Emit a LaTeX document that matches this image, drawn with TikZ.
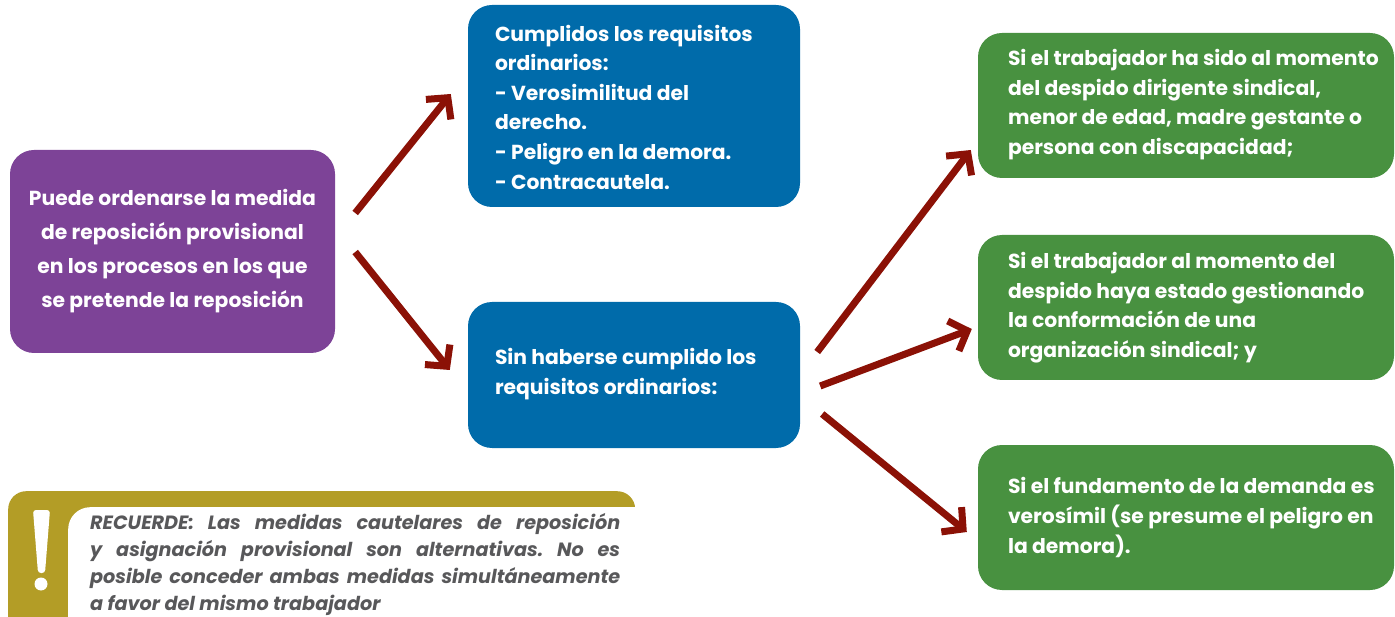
\documentclass[tikz,border=0pt]{standalone}
\usepackage{fontspec}
\setmainfont{Poppins}
\usetikzlibrary{arrows.meta,calc}
\definecolor{cpurple}{HTML}{7D4397}
\definecolor{cblue}{HTML}{006BAA}
\definecolor{cgreen}{HTML}{489140}
\definecolor{colive}{HTML}{B39D26}
\definecolor{carrow}{HTML}{8B1106}
\definecolor{cgrey}{HTML}{58585A}
\frenchspacing
\begin{document}
\begin{tikzpicture}[x=1pt,y=-1pt,
  boxshape/.style={rounded corners=24pt, inner sep=0pt, draw=none},
  boxtext/.style={text=white, inner sep=0pt, anchor=west, align=left,
    font=\bfseries\fontsize{20.3}{29.6}\selectfont},
  arr/.style={draw=carrow, line width=7pt,
    -{Straight Barb[sharp,length=15pt,width=32pt]}}]
\useasboundingbox (0,0) rectangle (1395,617);
\clip (0,0) rectangle (1395,617);

% purple box
\node[boxshape, fill=cpurple, minimum width=325pt, minimum height=203pt,
  text=white, align=center, font=\bfseries\fontsize{20.3}{34}\selectfont]
  (p) at (172.5,251.5) {Puede ordenarse la medida\\de reposición provisional\\en los procesos en los que\\se pretende la reposición};

% blue boxes
\node[boxshape, fill=cblue, minimum width=332pt, minimum height=202pt] (b1) at (634,106) {};
\node[boxtext] (b1t) at ($(b1.west)+(27,1)$) {Cumplidos los requisitos\\ordinarios:\\- Verosimilitud del\\derecho.\\- Peligro en la demora.\\- Contracautela.};

\node[boxshape, fill=cblue, minimum width=332pt, minimum height=146pt] (b2) at (634,375) {};
\node[boxtext] (b2t) at ($(b2.west)+(27,-1)$) {Sin haberse cumplido los\\requisitos ordinarios:};

% green boxes
\node[boxshape, fill=cgreen, minimum width=416pt, minimum height=145pt] (g1) at (1186,105.5) {};
\node[boxtext] (g1t) at ($(g1.west)+(30,-1)$) {Si el trabajador ha sido al momento\\del despido dirigente sindical,\\menor de edad, madre gestante o\\persona con discapacidad;};

\node[boxshape, fill=cgreen, minimum width=416pt, minimum height=145pt] (g2) at (1186,307.5) {};
\node[boxtext] (g2t) at ($(g2.west)+(30,0)$) {Si el trabajador al momento del\\despido haya estado gestionando\\la conformación de una\\organización sindical; y};

\node[boxshape, fill=cgreen, minimum width=416pt, minimum height=145pt] (g3) at (1186,517.5) {};
\node[boxtext] (g3t) at ($(g3.west)+(30,0)$) {Si el fundamento de la demanda es\\verosímil (se presume el peligro en\\la demora).};

% arrows
\draw[arr] ($(p.east)+(20,-38.5)$) -- ($(b1.west)+(-17,-12)$);
\draw[arr] ($(p.east)+(20,0.5)$) -- ($(b2.west)+(-18,-5)$);
\draw[arr] ($(b2.east)+(17,-23)$) -- ($(g1.west)+(-7,44.5)$);
\draw[arr] ($(b2.east)+(20,11)$) -- ($(g2.west)+(-6,21.5)$);
\draw[arr] ($(b2.east)+(22,39)$) -- ($(g3.west)+(-11,14.5)$);

% note box
\node[boxshape, rounded corners=18pt, fill=colive, minimum width=627pt, minimum height=160pt, anchor=north west] (nb) at (8,491) {};
\node[boxshape, rounded corners=22pt, fill=white, minimum width=700pt, minimum height=160pt, anchor=north west] (nw) at (68,507) {};
\fill[white, rounded corners=3pt] (33,510) -- (50,510) -- (45,573) -- (38,573) -- cycle;
\fill[white] (41,584) circle (6.5);
\node[inner sep=0pt, anchor=north west, text width=530pt, align=justify, text=cgrey,
  font=\bfseries\itshape\fontsize{19.2}{27}\selectfont] (nt) at (90,513)
  {RECUERDE: Las medidas cautelares de reposición\linebreak y asignación provisional son alternativas. No es\linebreak posible conceder ambas medidas simultáneamente\linebreak a favor del mismo trabajador};
\end{tikzpicture}
\end{document}
